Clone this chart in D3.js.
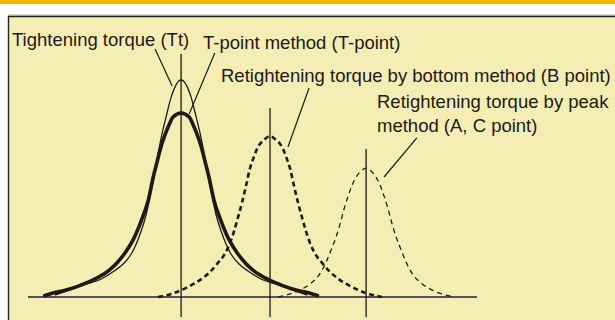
<!DOCTYPE html>
<html>
<head>
<meta charset="utf-8">
<script src="https://cdn.jsdelivr.net/npm/d3@7/dist/d3.min.js"></script>
<style>
  html, body { margin: 0; padding: 0; background: #fff; }
  svg { display: block; }
  text { font-family: "Liberation Sans", Arial, Helvetica, sans-serif; fill: #231815; }
</style>
</head>
<body>
<svg id="chart" width="615" height="320"></svg>
<script>
// Torque distributions: offsets from each distribution's mean torque, and frequency at that offset
// (the curves are symmetric about their mean).
const means = { tt: 34.1, tpoint: 34.1, bpoint: 53.9, peak: 75.3 };

const ttOffset     = [0, 2.2, 3.3, 4.5, 5.6, 6.7, 7.8, 8.9, 10.0, 11.1, 12.9, 14.9, 17.8, 21.8, 24.9, 28.1];
const ttFreq       = [100, 92.2, 83.4, 72.8, 60.8, 48.4, 37.8, 30.4, 24.4, 19.8, 15.2, 12.0, 8.3, 5.5, 3.2, 0.9];

const tpointOffset = [0, 1.8, 2.7, 3.6, 4.5, 5.3, 6.2, 7.3, 8.9, 10.7, 12.5, 14.3, 16.0, 18.7, 22.3, 25.6, 28.5, 30.7];
const tpointFreq   = [84.8, 82.9, 79.3, 74.7, 69.1, 62.7, 55.3, 44.7, 35.0, 26.3, 20.3, 15.7, 12.4, 8.8, 5.5, 3.2, 1.8, 0.4];

const bpointOffset = [0, 1.3, 2.7, 3.6, 4.5, 5.3, 6.2, 7.1, 8.0, 8.9, 10.2, 11.6, 13.4, 15.6, 18.3, 21.4, 24.9];
const bpointFreq   = [74.2, 72.4, 69.1, 64.5, 59.0, 51.6, 43.8, 36.9, 30.4, 24.9, 19.4, 15.7, 11.5, 7.8, 4.6, 1.8, 0];

const peakOffset   = [0, 1.1, 2.2, 3.1, 4.0, 4.9, 5.8, 6.7, 7.8, 8.9, 10.5, 12.2, 14.7, 16.9, 19.6];
const peakFreq     = [59.4, 58.1, 55.3, 51.6, 46.5, 40.6, 33.6, 27.6, 21.7, 16.1, 10.1, 6.5, 3.2, 1.4, 0];

// Mean-torque marker lines: torque and the height each one reaches
const markerTorque = [34.1, 53.9, 75.3];
const markerTop    = [112, 87.1, 68.2];
const markerBottom = -9.2;

// Label texts
const labels = [
  "Tightening torque (Tt)",
  "T-point method (T-point)",
  "Retightening torque by bottom method (B point)",
  "Retightening torque by peak",
  "method (A, C point)"
];

// Leader lines: [torque, frequency] from label to curve
const leaderTt     = [[28.3, 114.3], [32.1, 97.2]];
const leaderTpoint = [[41.6, 112.4], [35.9, 84.3]];
const leaderB      = [[62.6, 96.3], [57.9, 69.1]];
const leaderPeak   = [[86.6, 73.3], [79.3, 55.3]];

const svg = d3.select("#chart");
const W = 615, H = 320;
const ink = "#231815";

// Page furniture: orange band, white gap, pale panel with dark top/left edges
svg.append("rect").attr("x", 0).attr("y", 0).attr("width", W).attr("height", 4).attr("fill", "#f6b300");
svg.append("rect").attr("x", 8).attr("y", 16).attr("width", W - 8).attr("height", H - 16).attr("fill", "#f5eeb4");
svg.append("line").attr("x1", 8).attr("x2", W).attr("y1", 15).attr("y2", 15).attr("stroke", "#a8a8a8").attr("stroke-width", 1);
svg.append("line").attr("x1", 8).attr("x2", W).attr("y1", 16.5).attr("y2", 16.5).attr("stroke", "#222").attr("stroke-width", 1.6);
svg.append("line").attr("x1", 8.5).attr("x2", 8.5).attr("y1", 16).attr("y2", H).attr("stroke", "#222").attr("stroke-width", 1.4);

const x = d3.scaleLinear().domain([0, 100]).range([28, 477]);
const y = d3.scaleLinear().domain([0, 100]).range([297, 80]);

// Baseline (torque axis)
svg.append("line")
  .attr("x1", x(0)).attr("x2", x(100))
  .attr("y1", y(0)).attr("y2", y(0))
  .attr("stroke", "#5a524c").attr("stroke-width", 2);

// Mean-torque marker lines
svg.selectAll("line.marker")
  .data(markerTorque)
  .join("line")
  .attr("class", "marker")
  .attr("x1", d => x(d)).attr("x2", d => x(d))
  .attr("y1", (d, i) => y(markerTop[i])).attr("y2", y(markerBottom))
  .attr("stroke", ink).attr("stroke-width", 1.3);

// Build a full symmetric curve from one side's offsets
function curvePoints(mean, offsets, freqs) {
  const left = offsets.map((o, i) => [mean - o, freqs[i]]).reverse();
  const right = offsets.slice(1).map((o, i) => [mean + o, freqs[i + 1]]);
  return left.concat(right);
}

const line = d3.line()
  .x(d => x(d[0]))
  .y(d => y(d[1]))
  .curve(d3.curveMonotoneX);

const curves = [
  { pts: curvePoints(means.tt, ttOffset, ttFreq), width: 1.3, dash: null },
  { pts: curvePoints(means.tpoint, tpointOffset, tpointFreq), width: 3.6, dash: null },
  { pts: curvePoints(means.bpoint, bpointOffset, bpointFreq), width: 2.6, dash: "5,3.5" },
  { pts: curvePoints(means.peak, peakOffset, peakFreq), width: 1.3, dash: "5,4" }
];

svg.selectAll("path.dist")
  .data(curves)
  .join("path")
  .attr("class", "dist")
  .attr("d", d => line(d.pts))
  .attr("fill", "none")
  .attr("stroke", ink)
  .attr("stroke-width", d => d.width)
  .attr("stroke-dasharray", d => d.dash);

// Leader lines
svg.selectAll("line.leader")
  .data([leaderTt, leaderTpoint, leaderB, leaderPeak])
  .join("line")
  .attr("class", "leader")
  .attr("x1", d => x(d[0][0])).attr("y1", d => y(d[0][1]))
  .attr("x2", d => x(d[1][0])).attr("y2", d => y(d[1][1]))
  .attr("stroke", ink).attr("stroke-width", 1.2);

// Labels
const labelPos = [[12, 46], [203, 49], [221, 82], [377, 108], [377, 132]];
svg.selectAll("text.label")
  .data(labels)
  .join("text")
  .attr("class", "label")
  .attr("x", (d, i) => labelPos[i][0])
  .attr("y", (d, i) => labelPos[i][1])
  .attr("font-size", 18.5)
  .text(d => d);
</script>
</body>
</html>
